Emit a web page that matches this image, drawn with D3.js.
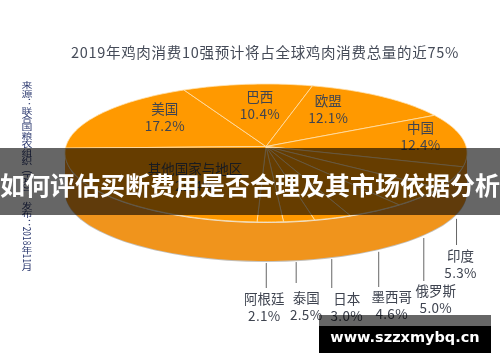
<!DOCTYPE html>
<html>
<head>
<meta charset="utf-8">
<script src="https://cdn.jsdelivr.net/npm/d3@7"></script>
<style>
    html, body { margin: 0; padding: 0; background: #fff; overflow: hidden; }
    svg { display: block; }
    text { font-family: "Noto Sans CJK SC", "Noto Sans", sans-serif; }
</style>
</head>
<body>
<div id="chart"></div>
<script>
// Chart data
const categories = ["美国", "巴西", "欧盟", "中国", "印度", "俄罗斯", "墨西哥", "日本", "泰国", "阿根廷", "其他国家与地区"];
const shares = [17.2, 10.4, 12.1, 12.4, 5.3, 5.0, 4.6, 3.0, 2.5, 2.1, 25.4];
const chartTitle = "2019年鸡肉消费10强预计将占全球鸡肉消费总量的近75%";
const sourceNote = "来源：联合国粮农组织（FAO），发布：2018年11月";
const bannerText = "如何评估买断费用是否合理及其市场依据分析";
const siteText = "www.szzxmybq.cn";

// Layout
const width = 500, height = 362;
const pie3d = { cx: 266, cy: 153, rx: 201, ry: 69, depth: 39, hubY: 146.5 };
const startDeg = 274;

// Labels sitting on the pie: offset from the point 62% of the way along the slice middle
const insideNudge = {
    "美国": [1, -9.5], "巴西": [5.5, -3.5], "欧盟": [-9.5, -7], "中国": [32, -7], "其他国家与地区": [22, -2]
};
// Labels under the pie: leader shift, leader end y, label offset
const outsideLayout = {
    "印度": { shift: 3, end: 245, dx: 4, dy: 10 },
    "俄罗斯": { shift: 3, end: 281, dx: 12, dy: 9 },
    "墨西哥": { shift: 3, end: 287, dx: 13, dy: 9 },
    "日本": { shift: -1, end: 288, dx: 15, dy: 10 },
    "泰国": { shift: -3, end: 283, dx: 10, dy: 14 },
    "阿根廷": { shift: -4, end: 288, dx: -2, dy: 10 }
};

const svg = d3.select("#chart").append("svg")
    .attr("width", width)
    .attr("height", height);

// The source image is a soft upscale, so the chart gets a light blur
const chart = svg.append("g").style("filter", "blur(0.35px)");

// Angles from d3.pie, then placed on the tilted ellipse
const pie = d3.pie()
    .sort(null)
    .value(d => d.share)
    .startAngle(startDeg * Math.PI / 180)
    .endAngle((startDeg + 360) * Math.PI / 180);

const slices = pie(categories.map((name, i) => ({ name, share: shares[i] })));

const rimPoint = (a, yOffset = 0) => [
    pie3d.cx + pie3d.rx * Math.sin(a),
    pie3d.cy + yOffset - pie3d.ry * Math.cos(a)
];

const line = d3.line();

// Side wall and its shadow edge
chart.append("ellipse")
    .attr("cx", pie3d.cx)
    .attr("cy", pie3d.cy + pie3d.depth + 1)
    .attr("rx", pie3d.rx)
    .attr("ry", pie3d.ry)
    .attr("fill", "#c4c0ba");

chart.append("path")
    .attr("d", () => {
        const angles = d3.range(90, 270.5, 2).map(d => d * Math.PI / 180);
        const lower = angles.map(a => rimPoint(a, pie3d.depth));
        const upper = angles.slice().reverse().map(a => rimPoint(a));
        return line(lower.concat(upper)) + "Z";
    })
    .attr("fill", "#f0941c");

// Rim highlight under the top face
chart.append("ellipse")
    .attr("cx", pie3d.cx)
    .attr("cy", pie3d.cy + 1)
    .attr("rx", pie3d.rx)
    .attr("ry", pie3d.ry)
    .attr("fill", "#e3dfd8");

// Top face slices
chart.selectAll(".slice")
    .data(slices)
    .enter()
    .append("path")
    .attr("class", "slice")
    .attr("d", d => {
        const steps = d3.range(d.startAngle, d.endAngle, 0.02).concat([d.endAngle]);
        return line([[pie3d.cx, pie3d.hubY]].concat(steps.map(a => rimPoint(a)))) + "Z";
    })
    .attr("fill", "#ff9900")
    .attr("stroke", "#ffe2b0")
    .attr("stroke-width", 0.8)
    .attr("stroke-linejoin", "round");

const midAngle = d => (d.startAngle + d.endAngle) / 2;

// Two line label: name above, share below
const drawLabel = (x, y, d) => {
    const label = chart.append("g")
        .attr("transform", `translate(${x},${y})`)
        .attr("fill", "#3f4450")
        .attr("font-size", 13.5)
        .attr("text-anchor", "middle");
    label.append("text")
        .attr("dominant-baseline", "central")
        .text(d.data.name);
    label.append("text")
        .attr("y", 17)
        .attr("dominant-baseline", "central")
        .attr("letter-spacing", 0.3)
        .text(d3.format(".1f")(d.data.share) + "%");
};

slices.forEach(d => {
    const a = midAngle(d);
    const rim = rimPoint(a);
    if (insideNudge[d.data.name]) {
        const [nx, ny] = insideNudge[d.data.name];
        const ax = pie3d.cx + 0.62 * (rim[0] - pie3d.cx);
        const ay = pie3d.hubY + 0.62 * (rim[1] - pie3d.hubY);
        drawLabel(ax + nx, ay + ny - 8.5, d);
    } else {
        const o = outsideLayout[d.data.name];
        const x = rim[0] + o.shift;
        const bottom = rimPoint(a, pie3d.depth + 2)[1];
        chart.append("line")
            .attr("x1", x)
            .attr("x2", x)
            .attr("y1", bottom)
            .attr("y2", o.end)
            .attr("stroke", "#666")
            .attr("stroke-width", 1);
        drawLabel(x + o.dx, o.end + o.dy, d);
    }
});

// Chart title
chart.append("text")
    .attr("x", 265)
    .attr("y", 51)
    .attr("text-anchor", "middle")
    .attr("dominant-baseline", "central")
    .attr("font-size", 14.5)
    .attr("letter-spacing", 0.7)
    .attr("fill", "#454b58")
    .text(chartTitle);

// Source note, written vertically and stretched sideways like the original
chart.append("text")
    .attr("transform", "translate(27,81) scale(1.3,1)")
    .style("writing-mode", "vertical-rl")
    .attr("font-size", 8.4)
    .attr("fill", "#2d3a70")
    .text(sourceNote);

// Banner across the middle
svg.append("rect")
    .attr("x", 0)
    .attr("y", 148)
    .attr("width", width)
    .attr("height", 67)
    .attr("fill", "rgba(0,0,0,0.6)");

svg.append("text")
    .attr("x", 250)
    .attr("y", 184)
    .attr("text-anchor", "middle")
    .attr("dominant-baseline", "central")
    .attr("font-size", 25)
    .attr("font-weight", 700)
    .attr("fill", "#fff")
    .text(bannerText);

// Site tag, bottom right
svg.append("rect")
    .attr("x", 319)
    .attr("y", 315)
    .attr("width", 172)
    .attr("height", 11)
    .attr("fill", "rgba(0,0,0,0.6)");

svg.append("rect")
    .attr("x", 319)
    .attr("y", 326)
    .attr("width", 172)
    .attr("height", 27)
    .attr("fill", "#000");

svg.append("text")
    .attr("x", 405)
    .attr("y", 337)
    .attr("text-anchor", "middle")
    .attr("dominant-baseline", "central")
    .style("font-family", "'DejaVu Sans', sans-serif")
    .attr("font-size", 14.5)
    .attr("font-weight", 700)
    .attr("fill", "#fff")
    .text(siteText);
</script>
</body>
</html>
